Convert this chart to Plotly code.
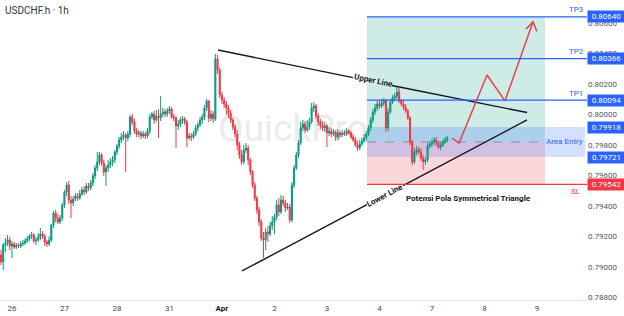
import plotly.graph_objects as go

# ---------------- data (USDCHF.h, 1h bars) ----------------
bar_open = [0.79079, 0.79033, 0.79144, 0.79157, 0.79177, 0.79138, 0.79151, 0.79131, 0.79144, 0.79138,
            0.79151, 0.79157, 0.79171, 0.79184, 0.79203, 0.79210, 0.79171, 0.79177, 0.79197, 0.79216,
            0.79203, 0.79164, 0.79151, 0.79177, 0.79275, 0.79354, 0.79321, 0.79295, 0.79321, 0.79407,
            0.79492, 0.79538, 0.79439, 0.79420, 0.79446, 0.79466, 0.79452, 0.79479, 0.79505, 0.79492,
            0.79531, 0.79518, 0.79551, 0.79597, 0.79649, 0.79689, 0.79734, 0.79682, 0.79623, 0.79649,
            0.79669, 0.79689, 0.79702, 0.79754, 0.79793, 0.79833, 0.79852, 0.79866, 0.79846, 0.79872,
            0.79984, 0.79951, 0.79892, 0.79872, 0.79879, 0.79859, 0.79872, 0.79859, 0.79892, 0.79984,
            0.80003, 0.79964, 0.79990, 0.79977, 0.80003, 0.80016, 0.80003, 0.80023, 0.80036, 0.79984,
            0.79977, 0.79925, 0.79938, 0.79964, 0.79971, 0.79951, 0.79846, 0.79859, 0.79852, 0.79872,
            0.79912, 0.79931, 0.79964, 0.79984, 0.80043, 0.80089, 0.79977, 0.80003, 0.79971, 0.80364,
            0.80292, 0.80128, 0.80095, 0.80069, 0.80043, 0.80010, 0.79964, 0.79918, 0.79872, 0.79800,
            0.79734, 0.79689, 0.79767, 0.79780, 0.79702, 0.79623, 0.79538, 0.79452, 0.79374, 0.79295,
            0.79190, 0.79177, 0.79230, 0.79216, 0.79269, 0.79295, 0.79328, 0.79407, 0.79361, 0.79439,
            0.79420, 0.79387, 0.79394, 0.79308, 0.79538, 0.79649, 0.79734, 0.79813, 0.79912, 0.79938,
            0.79898, 0.79918, 0.79951, 0.80043, 0.80056, 0.79990, 0.79951, 0.79931, 0.79912, 0.79925,
            0.79879, 0.79892, 0.79872, 0.79885, 0.79852, 0.79879, 0.79866, 0.79879, 0.79872, 0.79892,
            0.79879, 0.79852, 0.79833, 0.79800, 0.79780, 0.79807, 0.79826, 0.79846, 0.79872, 0.79912,
            0.79964, 0.80016, 0.80043, 0.80069, 0.80056, 0.80075, 0.80089, 0.79912, 0.80016, 0.80082,
            0.80108, 0.80121, 0.80148, 0.80089, 0.80069, 0.80049, 0.80023, 0.79977, 0.79820, 0.79689,
            0.79754, 0.79767, 0.79754, 0.79715, 0.79689, 0.79702, 0.79793, 0.79807, 0.79820, 0.79833,
            0.79813, 0.79787, 0.79800, 0.79820, 0.79833]

bar_high = [0.79111, 0.79157, 0.79190, 0.79210, 0.79197, 0.79171, 0.79164, 0.79157, 0.79157, 0.79171,
            0.79177, 0.79190, 0.79203, 0.79216, 0.79230, 0.79223, 0.79197, 0.79223, 0.79256, 0.79236,
            0.79216, 0.79177, 0.79203, 0.79282, 0.79367, 0.79374, 0.79348, 0.79341, 0.79420, 0.79505,
            0.79557, 0.79564, 0.79466, 0.79466, 0.79485, 0.79485, 0.79505, 0.79525, 0.79531, 0.79551,
            0.79551, 0.79571, 0.79616, 0.79669, 0.79754, 0.79754, 0.79748, 0.79702, 0.79669, 0.79702,
            0.79715, 0.79728, 0.79767, 0.79807, 0.79852, 0.79879, 0.79892, 0.79879, 0.79892, 0.79997,
            0.80003, 0.79971, 0.79912, 0.79898, 0.79892, 0.79892, 0.79885, 0.79912, 0.80003, 0.80016,
            0.80023, 0.80030, 0.80036, 0.80121, 0.80043, 0.80036, 0.80043, 0.80056, 0.80049, 0.80003,
            0.79990, 0.79964, 0.79984, 0.79990, 0.79984, 0.79964, 0.79879, 0.79879, 0.79892, 0.79931,
            0.79951, 0.79984, 0.80003, 0.80062, 0.80102, 0.80095, 0.80030, 0.80023, 0.80397, 0.80390,
            0.80305, 0.80148, 0.80115, 0.80089, 0.80062, 0.80030, 0.79977, 0.79938, 0.79898, 0.79820,
            0.79767, 0.79800, 0.79813, 0.79800, 0.79715, 0.79636, 0.79557, 0.79466, 0.79394, 0.79315,
            0.79230, 0.79256, 0.79269, 0.79295, 0.79334, 0.79348, 0.79439, 0.79452, 0.79472, 0.79466,
            0.79439, 0.79420, 0.79413, 0.79557, 0.79669, 0.79754, 0.79833, 0.79951, 0.79964, 0.79957,
            0.79964, 0.79977, 0.80075, 0.80082, 0.80069, 0.80010, 0.79971, 0.79957, 0.79951, 0.79938,
            0.79918, 0.79912, 0.79905, 0.79898, 0.79905, 0.79892, 0.79898, 0.79898, 0.79912, 0.79905,
            0.79892, 0.79872, 0.79852, 0.79826, 0.79833, 0.79846, 0.79872, 0.79892, 0.79931, 0.79984,
            0.80036, 0.80069, 0.80089, 0.80095, 0.80102, 0.80108, 0.80102, 0.80043, 0.80102, 0.80128,
            0.80141, 0.80180, 0.80174, 0.80102, 0.80089, 0.80069, 0.80036, 0.79990, 0.79833, 0.79780,
            0.79793, 0.79787, 0.79780, 0.79734, 0.79721, 0.79813, 0.79826, 0.79839, 0.79852, 0.79852,
            0.79826, 0.79820, 0.79839, 0.79852, 0.79859]

bar_low = [0.79013, 0.78980, 0.79098, 0.79138, 0.79111, 0.79059, 0.79118, 0.79118, 0.79125, 0.79125,
           0.79138, 0.79144, 0.79157, 0.79171, 0.79184, 0.79157, 0.79144, 0.79164, 0.79177, 0.79184,
           0.79138, 0.79131, 0.79138, 0.79164, 0.79256, 0.79295, 0.79282, 0.79282, 0.79302, 0.79387,
           0.79466, 0.79413, 0.79321, 0.79400, 0.79433, 0.79433, 0.79439, 0.79466, 0.79472, 0.79479,
           0.79498, 0.79505, 0.79531, 0.79577, 0.79630, 0.79669, 0.79662, 0.79597, 0.79531, 0.79623,
           0.79649, 0.79662, 0.79682, 0.79734, 0.79774, 0.79813, 0.79833, 0.79623, 0.79826, 0.79852,
           0.79931, 0.79872, 0.79852, 0.79852, 0.79839, 0.79846, 0.79839, 0.79846, 0.79872, 0.79971,
           0.79938, 0.79951, 0.79846, 0.79957, 0.79984, 0.79984, 0.79984, 0.80003, 0.79971, 0.79957,
           0.79780, 0.79898, 0.79918, 0.79938, 0.79931, 0.79787, 0.79833, 0.79826, 0.79839, 0.79859,
           0.79892, 0.79918, 0.79938, 0.79964, 0.80023, 0.79951, 0.79957, 0.79944, 0.79957, 0.80266,
           0.80108, 0.80069, 0.80043, 0.79997, 0.79977, 0.79944, 0.79898, 0.79852, 0.79767, 0.79708,
           0.79669, 0.79675, 0.79748, 0.79669, 0.79603, 0.79518, 0.79433, 0.79348, 0.79269, 0.79171,
           0.79059, 0.79111, 0.79164, 0.79203, 0.79243, 0.79216, 0.79308, 0.79334, 0.79348, 0.79400,
           0.79361, 0.79374, 0.79289, 0.79295, 0.79518, 0.79636, 0.79715, 0.79800, 0.79892, 0.79879,
           0.79885, 0.79898, 0.79938, 0.80016, 0.79971, 0.79925, 0.79905, 0.79892, 0.79885, 0.79787,
           0.79859, 0.79852, 0.79859, 0.79826, 0.79833, 0.79846, 0.79852, 0.79859, 0.79859, 0.79866,
           0.79839, 0.79820, 0.79787, 0.79761, 0.79767, 0.79793, 0.79813, 0.79826, 0.79859, 0.79892,
           0.79944, 0.79997, 0.80023, 0.80036, 0.80043, 0.80056, 0.79885, 0.79892, 0.80003, 0.80069,
           0.80089, 0.80102, 0.80075, 0.80056, 0.80030, 0.80010, 0.79964, 0.79800, 0.79669, 0.79675,
           0.79734, 0.79741, 0.79695, 0.79636, 0.79669, 0.79689, 0.79780, 0.79787, 0.79800, 0.79793,
           0.79774, 0.79767, 0.79787, 0.79807, 0.79820]

bar_close = [0.79033, 0.79144, 0.79157, 0.79177, 0.79138, 0.79151, 0.79131, 0.79144, 0.79138, 0.79151,
             0.79157, 0.79171, 0.79184, 0.79203, 0.79210, 0.79171, 0.79177, 0.79197, 0.79216, 0.79203,
             0.79164, 0.79151, 0.79177, 0.79275, 0.79354, 0.79321, 0.79295, 0.79321, 0.79407, 0.79492,
             0.79538, 0.79439, 0.79420, 0.79446, 0.79466, 0.79452, 0.79479, 0.79505, 0.79492, 0.79531,
             0.79518, 0.79551, 0.79597, 0.79649, 0.79689, 0.79734, 0.79682, 0.79623, 0.79649, 0.79669,
             0.79689, 0.79702, 0.79754, 0.79793, 0.79833, 0.79852, 0.79866, 0.79846, 0.79872, 0.79984,
             0.79951, 0.79892, 0.79872, 0.79879, 0.79859, 0.79872, 0.79859, 0.79892, 0.79984, 0.80003,
             0.79964, 0.79990, 0.79977, 0.80003, 0.80016, 0.80003, 0.80023, 0.80036, 0.79984, 0.79977,
             0.79925, 0.79938, 0.79964, 0.79971, 0.79951, 0.79846, 0.79859, 0.79852, 0.79872, 0.79912,
             0.79931, 0.79964, 0.79984, 0.80043, 0.80089, 0.79977, 0.80003, 0.79971, 0.80364, 0.80292,
             0.80128, 0.80095, 0.80069, 0.80043, 0.80010, 0.79964, 0.79918, 0.79872, 0.79800, 0.79734,
             0.79689, 0.79767, 0.79780, 0.79702, 0.79623, 0.79538, 0.79452, 0.79374, 0.79295, 0.79190,
             0.79177, 0.79230, 0.79216, 0.79269, 0.79295, 0.79328, 0.79407, 0.79361, 0.79439, 0.79420,
             0.79387, 0.79394, 0.79308, 0.79538, 0.79649, 0.79734, 0.79813, 0.79912, 0.79938, 0.79898,
             0.79918, 0.79951, 0.80043, 0.80056, 0.79990, 0.79951, 0.79931, 0.79912, 0.79925, 0.79879,
             0.79892, 0.79872, 0.79885, 0.79852, 0.79879, 0.79866, 0.79879, 0.79872, 0.79892, 0.79879,
             0.79852, 0.79833, 0.79800, 0.79780, 0.79807, 0.79826, 0.79846, 0.79872, 0.79912, 0.79964,
             0.80016, 0.80043, 0.80069, 0.80056, 0.80075, 0.80089, 0.79912, 0.80016, 0.80082, 0.80108,
             0.80121, 0.80148, 0.80089, 0.80069, 0.80049, 0.80023, 0.79977, 0.79820, 0.79689, 0.79754,
             0.79767, 0.79754, 0.79715, 0.79689, 0.79702, 0.79793, 0.79807, 0.79820, 0.79833, 0.79813,
             0.79787, 0.79800, 0.79820, 0.79833, 0.79846]

bar_index = list(range(len(bar_close)))

day_labels = ["26", "27", "28", "31", "<span style='color:#131722'><b>Apr</b></span>",
              "2", "3", "4", "7", "8", "9"]
day_start_bar = [5, 29, 53, 77, 101, 125, 149, 173, 197, 221, 245]

price_ticks = [0.788, 0.790, 0.792, 0.794, 0.796, 0.798, 0.800, 0.802, 0.804, 0.806]

# trade plan (long position tool)
tp_levels = [0.80094, 0.80366, 0.80640]
tp_names = ["TP1", "TP2", "TP3"]
entry_high = 0.79918
entry_low = 0.79721
entry_price = 0.79820
stop_loss = 0.79542
plan_start_bar = 167.3
plan_end_bar = 248.7
view_bar_range = [-0.46, 267.9]
view_price_range = [0.787837, 0.807508]

# triangle trend lines (two segments each, gap for the label)
upper_bars = [99.2, 160.9, None, 178.7, 240.5]
upper_prices = [0.80423, 0.80242, None, 0.80190, 0.80013]
lower_bars = [110.2, 167.3, None, 183.8, 240.5]
lower_prices = [0.78974, 0.79409, None, 0.79534, 0.79964]

# projected path + arrow head
path_bars = [206.2, 209.4, 222.2, 230.4, 243.2]
path_prices = [0.79846, 0.79813, 0.80259, 0.80089, 0.80607]
head_bars = [240.0, 243.2, 245.0]
head_prices = [0.80561, 0.80607, 0.80544]

BLUE = "#2962ff"
RED = "#f23645"
GREEN = "#089981"
FONT = "Roboto"

fig = go.Figure()

fig.add_trace(go.Candlestick(
    x=bar_index, open=bar_open, high=bar_high, low=bar_low, close=bar_close,
    increasing=dict(line=dict(color=GREEN, width=1), fillcolor=GREEN),
    decreasing=dict(line=dict(color=RED, width=1), fillcolor=RED),
    whiskerwidth=0, hoverinfo="skip", showlegend=False))

fig.add_trace(go.Scatter(x=upper_bars, y=upper_prices, mode="lines",
                         line=dict(color="#131722", width=1.4), hoverinfo="skip",
                         showlegend=False, connectgaps=False))
fig.add_trace(go.Scatter(x=lower_bars, y=lower_prices, mode="lines",
                         line=dict(color="#131722", width=1.4), hoverinfo="skip",
                         showlegend=False, connectgaps=False))
fig.add_trace(go.Scatter(x=path_bars, y=path_prices, mode="lines",
                         line=dict(color="#e0434d", width=1.5), hoverinfo="skip",
                         showlegend=False))
fig.add_trace(go.Scatter(x=head_bars, y=head_prices, mode="lines",
                         line=dict(color="#e0434d", width=1.5), hoverinfo="skip",
                         showlegend=False))

shapes = []
# watermark (behind candles)
shapes.append(dict(type="rect", xref="x", yref="y", x0=120, x1=147, y0=0.7991, y1=0.7994,
                   line=dict(width=0), fillcolor="rgba(0,0,0,0)", layer="below",
                   label=dict(text="QuickPro", font=dict(family=FONT, size=37, color="#ebebeb"),
                              textposition="middle center")))
# profit zone
shapes.append(dict(type="rect", xref="x", yref="y", x0=plan_start_bar, x1=plan_end_bar,
                   y0=entry_price, y1=tp_levels[-1], line=dict(width=0),
                   fillcolor="rgba(8,153,129,0.2)", layer="below"))
# loss zone
shapes.append(dict(type="rect", xref="x", yref="y", x0=plan_start_bar, x1=plan_end_bar,
                   y0=stop_loss, y1=entry_price, line=dict(width=0),
                   fillcolor="rgba(242,54,69,0.2)", layer="below"))
# entry area
shapes.append(dict(type="rect", xref="x", yref="y", x0=plan_start_bar, x1=view_bar_range[1] - 0.8,
                   y0=entry_low, y1=entry_high, line=dict(width=0),
                   fillcolor="rgba(41,98,255,0.2)", layer="below"))
# entry dashed line
shapes.append(dict(type="line", xref="x", yref="y", x0=plan_start_bar, x1=plan_end_bar,
                   y0=entry_price, y1=entry_price, line=dict(color="#8a8f9c", width=1, dash="dash"),
                   layer="below"))
for lv in tp_levels:
    shapes.append(dict(type="line", xref="x", yref="y", x0=plan_start_bar, x1=view_bar_range[1],
                       y0=lv, y1=lv, line=dict(color=BLUE, width=1.3)))
shapes.append(dict(type="line", xref="x", yref="y", x0=plan_start_bar, x1=view_bar_range[1],
                   y0=stop_loss, y1=stop_loss, line=dict(color=RED, width=1.3)))

annotations = []
annotations.append(dict(xref="paper", yref="paper", x=0, y=1, xanchor="left", yanchor="top",
                        xshift=3, yshift=-3, showarrow=False, text="USDCHF.h · 1h",
                        font=dict(family=FONT, size=10, color="#333333")))
annotations.append(dict(xref="x", yref="y", x=170.1, y=0.80218, showarrow=False,
                        text="<b>Upper Line</b>", textangle=11.6, yshift=1,
                        font=dict(family=FONT, size=8, color="#131722")))
annotations.append(dict(xref="x", yref="y", x=175.5, y=0.79469, showarrow=False,
                        text="<b>Lower Line</b>", textangle=-28,
                        font=dict(family=FONT, size=8, color="#131722")))
annotations.append(dict(xref="x", yref="y", x=213.5, y=0.79446, showarrow=False,
                        text="<b>Potensi Pola Symmetrical Triangle</b>",
                        font=dict(family=FONT, size=8, color="#131722")))
for name, lv in zip(tp_names, tp_levels):
    annotations.append(dict(xref="x", yref="y", x=263.0, y=lv, yshift=7, showarrow=False,
                            text=name, font=dict(family=FONT, size=8, color=BLUE)))
annotations.append(dict(xref="x", yref="y", x=263.0, y=stop_loss, yshift=-7, showarrow=False,
                        text="SL", font=dict(family=FONT, size=8, color=RED)))
annotations.append(dict(xref="x", yref="y", x=257.8, y=entry_price, showarrow=False,
                        text="Area Entry", font=dict(family=FONT, size=8, color=BLUE)))
for lv, col in [(tp_levels[2], BLUE), (tp_levels[1], BLUE), (tp_levels[0], BLUE),
                (entry_high, BLUE), (entry_low, BLUE), (stop_loss, RED)]:
    annotations.append(dict(xref="paper", yref="y", x=1, y=lv, xanchor="left", yanchor="middle",
                            showarrow=False, text=f"{lv:.5f}", bgcolor=col, borderpad=1, width=35,
                            font=dict(family=FONT, size=8, color="white")))

fig.update_layout(
    width=624, height=316,
    margin=dict(l=0, r=37, t=0, b=16),
    paper_bgcolor="white", plot_bgcolor="white",
    font=dict(family=FONT),
    shapes=shapes, annotations=annotations,
    showlegend=False,
    xaxis=dict(range=view_bar_range, tickvals=day_start_bar, ticktext=day_labels,
               showgrid=False, zeroline=False, showline=True, linecolor="#e0e3eb", linewidth=1,
               ticks="", tickfont=dict(family=FONT, size=8, color="#4a4a4a"),
               rangeslider=dict(visible=False), fixedrange=True),
    yaxis=dict(range=view_price_range, side="right", tickvals=price_ticks,
               ticktext=[f"{v:.5f}" for v in price_ticks],
               showgrid=False, zeroline=False, ticks="",
               tickfont=dict(family=FONT, size=8, color="#555555"), fixedrange=True),
)

fig.write_html("out.html")
